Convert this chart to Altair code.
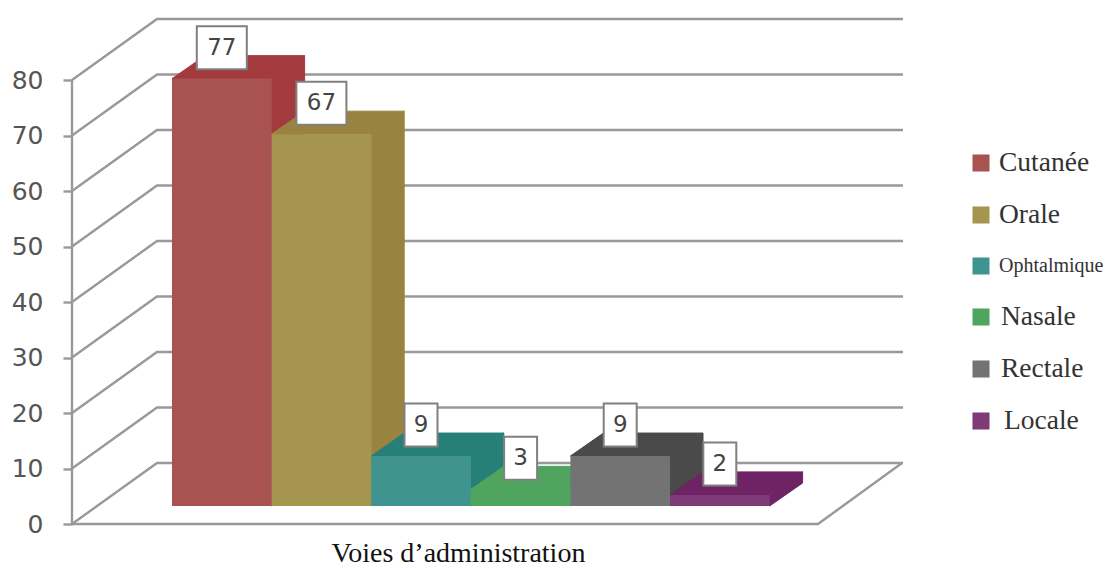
import altair as alt
import pandas as pd

# ---- data ----
SERIES = ["Cutanée", "Orale", "Ophtalmique", "Nasale", "Rectale", "Locale"]
VALUES = [77, 67, 9, 3, 9, 2]
TICKS = [0, 10, 20, 30, 40, 50, 60, 70, 80]
X_TITLE = "Voies d’administration"

# ---- styling / layout ----
FRONT = ["#A85252", "#A6954F", "#3F9490", "#4FA45E", "#737373", "#7F3A78"]
SIDE = ["#A33A3E", "#9A8340", "#267F78", "#4FA45E", "#4A4A4A", "#6E2464"]
LEG_FONT = [27.5, 27.5, 20, 27.5, 27.5, 27.5]
LEG_TEXT_X = [999, 999, 999, 1001, 1001, 1004]
LEG_Y = [163, 215, 266, 317, 369, 421]
GRID = "#999999"
PX_PER_UNIT = 5.55          # vertical pixels for one value unit
LEFT, RIGHT, TOP, BOTTOM = 72, 1104, 8, 524
BAR_X0, BAR_W = 172, 99.6
BASE = 18 / PX_PER_UNIT      # front of the bars stands above the floor's front edge
BAR_DX, BAR_DY = 33, 23 / PX_PER_UNIT
WALL_DX, WALL_DY = 85, 61 / PX_PER_UNIT
FLOOR_RIGHT = 818
LABEL_UP = 31 / PX_PER_UNIT
BOX_H = 43 / PX_PER_UNIT

xs = alt.Scale(domain=[LEFT, RIGHT], nice=False, zero=False)
ys = alt.Scale(domain=[0, (BOTTOM - TOP) / PX_PER_UNIT], nice=False, zero=False)
y_axis = alt.Axis(
    values=TICKS, title=None, grid=False, domain=False, tickColor=GRID, tickWidth=2.4,
    tickSize=9, labelPadding=20, labelFont="DejaVu Sans", labelFontSize=25,
    labelColor="#555555", labelOverlap=False)
X = lambda f="x": alt.X(f"{f}:Q", scale=xs, axis=None)
Y = lambda f="y": alt.Y(f"{f}:Q", scale=ys, axis=y_axis)

# ---- frame -------------------------------------------------------------
frame = []
for t in TICKS:
    frame += [dict(k=f"d{t}", x=LEFT, y=t), dict(k=f"d{t}", x=LEFT + WALL_DX, y=t + WALL_DY),
              dict(k=f"d{t}", x=FLOOR_RIGHT + WALL_DX, y=t + WALL_DY)]
frame += [dict(k="floor", x=LEFT, y=0), dict(k="floor", x=FLOOR_RIGHT, y=0),
          dict(k="floor", x=FLOOR_RIGHT + WALL_DX - 1, y=WALL_DY)]
frame += [dict(k="axis", x=LEFT, y=0), dict(k="axis", x=LEFT, y=80)]
frame_layer = alt.Chart(pd.DataFrame(frame)).mark_line(
    color=GRID, strokeWidth=2.4, strokeJoin="miter"
).encode(x=X(), y=Y(), detail="k:N", order=alt.Order("x:Q"))

# ---- bars --------------------------------------------------------------
front, side, top, boxes = [], [], [], []
for i, (s, v) in enumerate(zip(SERIES, VALUES)):
    l = BAR_X0 + i * BAR_W
    r = l + BAR_W
    yt = BASE + v
    front.append(dict(s=s, x=l, x2=r, y=BASE, y2=yt, c=FRONT[i]))
    side += [dict(s=s, x=r, y=BASE, y2=yt, c=SIDE[i]),
             dict(s=s, x=r + BAR_DX, y=BASE + BAR_DY, y2=yt + BAR_DY, c=SIDE[i])]
    top += [dict(s=s, x=l, x2=r, y=yt, c=SIDE[i]),
            dict(s=s, x=l + BAR_DX, x2=r + BAR_DX, y=yt + BAR_DY, c=SIDE[i])]
    half = 25 if v >= 10 else 16.5
    cx = (l + r) / 2
    cy = yt + LABEL_UP
    boxes.append(dict(s=s, v=v, x=cx - half, x2=cx + half, cx=cx, cy=cy,
                      y=cy - BOX_H / 2, y2=cy + BOX_H / 2))

side_layer = alt.Chart(pd.DataFrame(side)).mark_area(orient="vertical", strokeWidth=1).encode(
    x=X(), y=Y(), y2="y2:Q", detail="s:N", color=alt.Color("c:N", scale=None),
    stroke=alt.Stroke("c:N", scale=None))
top_layer = alt.Chart(pd.DataFrame(top)).mark_area(orient="horizontal", strokeWidth=1).encode(
    y=Y(), x=X(), x2="x2:Q", detail="s:N", color=alt.Color("c:N", scale=None),
    stroke=alt.Stroke("c:N", scale=None))
front_layer = alt.Chart(pd.DataFrame(front)).mark_rect().encode(
    x=X(), x2="x2:Q", y=Y(), y2="y2:Q", color=alt.Color("c:N", scale=None))

box_df = pd.DataFrame(boxes)
box_layer = alt.Chart(box_df).mark_rect(fill="#FFFFFF", stroke="#808080", strokeWidth=2).encode(
    x=X(), x2="x2:Q", y=Y(), y2="y2:Q")
box_text = alt.Chart(box_df).mark_text(
    font="DejaVu Sans", fontSize=23, color="#444444", baseline="middle", align="center"
).encode(x=X("cx"), y=Y("cy"), text="v:Q")

# ---- legend ------------------------------------------------------------
leg = pd.DataFrame({
    "s": SERIES, "c": FRONT, "tx": LEG_TEXT_X, "fs": LEG_FONT,
    "y": [(BOTTOM - p) / PX_PER_UNIT for p in LEG_Y], "sx": [981] * len(SERIES),
})
leg_sym = alt.Chart(leg).mark_point(shape="square", filled=True, opacity=1, size=290).encode(
    x=X("sx"), y=Y(), color=alt.Color("c:N", scale=None))
leg_txt = alt.Chart(leg).mark_text(
    font="Liberation Serif", align="left", baseline="middle", color="#333333"
).encode(x=X("tx"), y=Y(), text="s:N", size=alt.Size("fs:Q", scale=None))

# ---- x title -----------------------------------------------------------
title = alt.Chart(pd.DataFrame({"t": [X_TITLE], "x": [458.5], "y": [-30 / PX_PER_UNIT]})).mark_text(
    font="Liberation Serif", fontSize=28, color="#111111", align="center", baseline="middle"
).encode(x=X(), y=Y(), text="t:N")

chart = alt.layer(
    frame_layer, side_layer, top_layer, front_layer,
    box_layer, box_text, leg_sym, leg_txt, title,
).properties(
    width=RIGHT - LEFT,
    height=BOTTOM - TOP,
    autosize=alt.AutoSizeParams(type="none"),
    padding={"left": LEFT - 8, "top": 0, "right": 0, "bottom": 44},
    background="#FFFFFF",
).configure_view(stroke=None)

chart.save("out.html", embed_options={"renderer": "svg", "actions": False})
